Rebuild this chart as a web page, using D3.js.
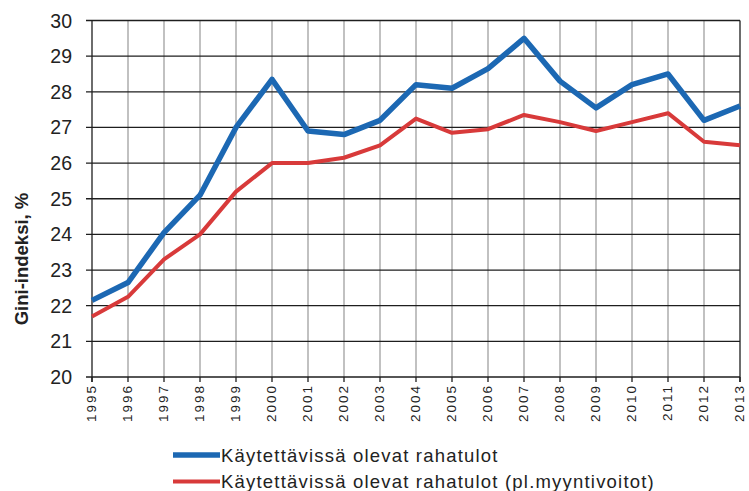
<!DOCTYPE html>
<html>
<head>
<meta charset="utf-8">
<script src="https://cdn.jsdelivr.net/npm/d3@7"></script>
<style>
  body { margin: 0; background: #fff; }
  text { font-family: "Liberation Sans", Arial, sans-serif; }
</style>
</head>
<body>
<div id="paper"></div>
<script>
const years = [1995, 1996, 1997, 1998, 1999, 2000, 2001, 2002, 2003, 2004,
               2005, 2006, 2007, 2008, 2009, 2010, 2011, 2012, 2013];
const disposable = [22.15, 22.65, 24.05, 25.1, 27.0, 28.35, 26.9, 26.8, 27.2, 28.2,
                    28.1, 28.65, 29.5, 28.3, 27.55, 28.2, 28.5, 27.2, 27.6];
const disposableExclGains = [21.7, 22.25, 23.3, 24.0, 25.2, 26.0, 26.0, 26.15, 26.5, 27.25,
                             26.85, 26.95, 27.35, 27.15, 26.9, 27.15, 27.4, 26.6, 26.5];
const yTicks = [20, 21, 22, 23, 24, 25, 26, 27, 28, 29, 30];
const seriesNames = ["Käytettävissä olevat rahatulot",
                     "Käytettävissä olevat rahatulot (pl.myyntivoitot)"];

const W = 749, H = 491;
const mLeft = 92, mRight = 740, mTop = 20.5, mBottom = 377;
const blue = "#1c68b3", red = "#d83a3a";

const svg = d3.select("#paper")
  .append("svg")
  .attr("width", W)
  .attr("height", H);

const x = d3.scalePoint().domain(years).range([mLeft, mRight]);
const y = d3.scaleLinear().domain([20, 30]).range([mBottom, mTop]);

// vertical grid (grey)
svg.selectAll(".vgrid")
  .data(years.slice(1, -1))
  .join("line")
  .attr("class", "vgrid")
  .attr("x1", d => x(d)).attr("x2", d => x(d))
  .attr("y1", mTop).attr("y2", mBottom)
  .attr("stroke", "#adadad")
  .attr("stroke-width", 1.5);

// horizontal grid (dark)
svg.selectAll(".hgrid")
  .data(yTicks)
  .join("line")
  .attr("class", "hgrid")
  .attr("x1", mLeft - 6).attr("x2", mRight)
  .attr("y1", d => y(d)).attr("y2", d => y(d))
  .attr("stroke", "#1e1e1e")
  .attr("stroke-width", 1.3);

// axis frame
svg.selectAll(".frame")
  .data([mLeft, mRight])
  .join("line")
  .attr("class", "frame")
  .attr("x1", d => d).attr("x2", d => d)
  .attr("y1", mTop).attr("y2", mBottom + 5)
  .attr("stroke", "#1e1e1e").attr("stroke-width", 1.3);

// x ticks
svg.selectAll(".xtick")
  .data(years)
  .join("line")
  .attr("class", "xtick")
  .attr("x1", d => x(d)).attr("x2", d => x(d))
  .attr("y1", mBottom).attr("y2", mBottom + 5)
  .attr("stroke", "#1e1e1e").attr("stroke-width", 1.3);

// y tick labels
svg.selectAll(".ylab")
  .data(yTicks)
  .join("text")
  .attr("class", "ylab")
  .attr("x", mLeft - 20)
  .attr("y", d => y(d))
  .attr("dy", "0.36em")
  .attr("text-anchor", "end")
  .attr("font-size", "19.5px")
  .attr("fill", "#222")
  .text(d => d);

// x tick labels (rotated)
svg.selectAll(".xlab")
  .data(years)
  .join("text")
  .attr("class", "xlab")
  .attr("transform", d => `translate(${x(d) - 0.5},${mBottom + 7}) rotate(-90)`)
  .attr("dy", "0.36em")
  .attr("text-anchor", "end")
  .attr("font-size", "13.5px")
  .attr("letter-spacing", "2px")
  .attr("fill", "#222")
  .text(d => d);

// y axis title
svg.append("text")
  .attr("transform", "translate(21,259) rotate(-90)")
  .attr("text-anchor", "middle")
  .attr("dy", "0.36em")
  .attr("font-size", "18.5px")
  .attr("font-weight", "bold")
  .attr("fill", "#222")
  .text("Gini-indeksi, %");

const line = d3.line().x((d, i) => x(years[i])).y(d => y(d));

svg.append("path")
  .attr("d", line(disposableExclGains))
  .attr("fill", "none")
  .attr("stroke", red)
  .attr("stroke-width", 4)
  .attr("stroke-linejoin", "round");

svg.append("path")
  .attr("d", line(disposable))
  .attr("fill", "none")
  .attr("stroke", blue)
  .attr("stroke-width", 5.5)
  .attr("stroke-linejoin", "round");

// legend
const legend = [
  { name: seriesNames[0], color: blue, w: 5.5, y: 455 },
  { name: seriesNames[1], color: red, w: 4, y: 481.5 }
];

svg.selectAll(".legline")
  .data(legend)
  .join("line")
  .attr("class", "legline")
  .attr("x1", 173).attr("x2", 220)
  .attr("y1", d => d.y).attr("y2", d => d.y)
  .attr("stroke", d => d.color)
  .attr("stroke-width", d => d.w);

svg.selectAll(".legtext")
  .data(legend)
  .join("text")
  .attr("class", "legtext")
  .attr("x", 221)
  .attr("y", d => d.y)
  .attr("dy", "0.36em")
  .attr("font-size", "18.5px")
  .attr("letter-spacing", "1.2px")
  .attr("fill", "#222")
  .text(d => d.name);
</script>
</body>
</html>
